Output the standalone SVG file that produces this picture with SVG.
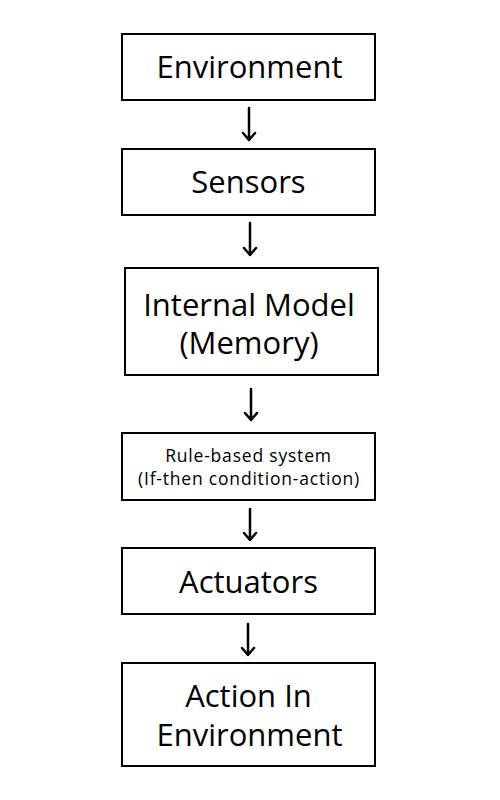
<svg xmlns="http://www.w3.org/2000/svg" width="500" height="800" viewBox="0 0 500 800">
<style>
.box{fill:#fff;stroke:#000;stroke-width:2}
.t{font-family:"Open Sans","Noto Sans",sans-serif;fill:#000;text-anchor:middle}
.big{font-size:31px}
.small{font-size:17.5px;letter-spacing:0.8px}
.arr{fill:none;stroke:#000;stroke-width:2.5;stroke-linecap:round;stroke-linejoin:round}
</style>
<rect width="500" height="800" fill="#fff"/>
<g id="environment"><rect class="box" x="122" y="34" width="253" height="66"/><text class="t big" x="249.5" y="78">Environment</text></g>
<g id="sensors"><rect class="box" x="122" y="149" width="253" height="66"/><text class="t big" x="248.5" y="193">Sensors</text></g>
<g id="internal-model"><rect class="box" x="125" y="268" width="253" height="107"/><text class="t big" x="249" y="316">Internal Model</text><text class="t big" x="249" y="354">(Memory)</text></g>
<g id="rule-based"><rect class="box" x="122" y="433" width="253" height="67"/><text class="t small" x="248.5" y="462">Rule-based system</text><text class="t small" x="249" y="485">(If-then condition-action)</text></g>
<g id="actuators"><rect class="box" x="122" y="548" width="253" height="66"/><text class="t big" x="248.5" y="593">Actuators</text></g>
<g id="action"><rect class="box" x="122" y="663" width="253" height="103"/><text class="t big" x="248.5" y="707">Action In</text><text class="t big" x="249.5" y="746">Environment</text></g>
<g id="connectors">
<path class="arr" d="M249 108V140M243 133L249 140L255 133"/>
<path class="arr" d="M250 223V255M244 248L250 255L256 248"/>
<path class="arr" d="M251 389V420M245 413L251 420L257 413"/>
<path class="arr" d="M250 509V540M244 533L250 540L256 533"/>
<path class="arr" d="M248 624V655M242 648L248 655L254 648"/>
</g>
</svg>
